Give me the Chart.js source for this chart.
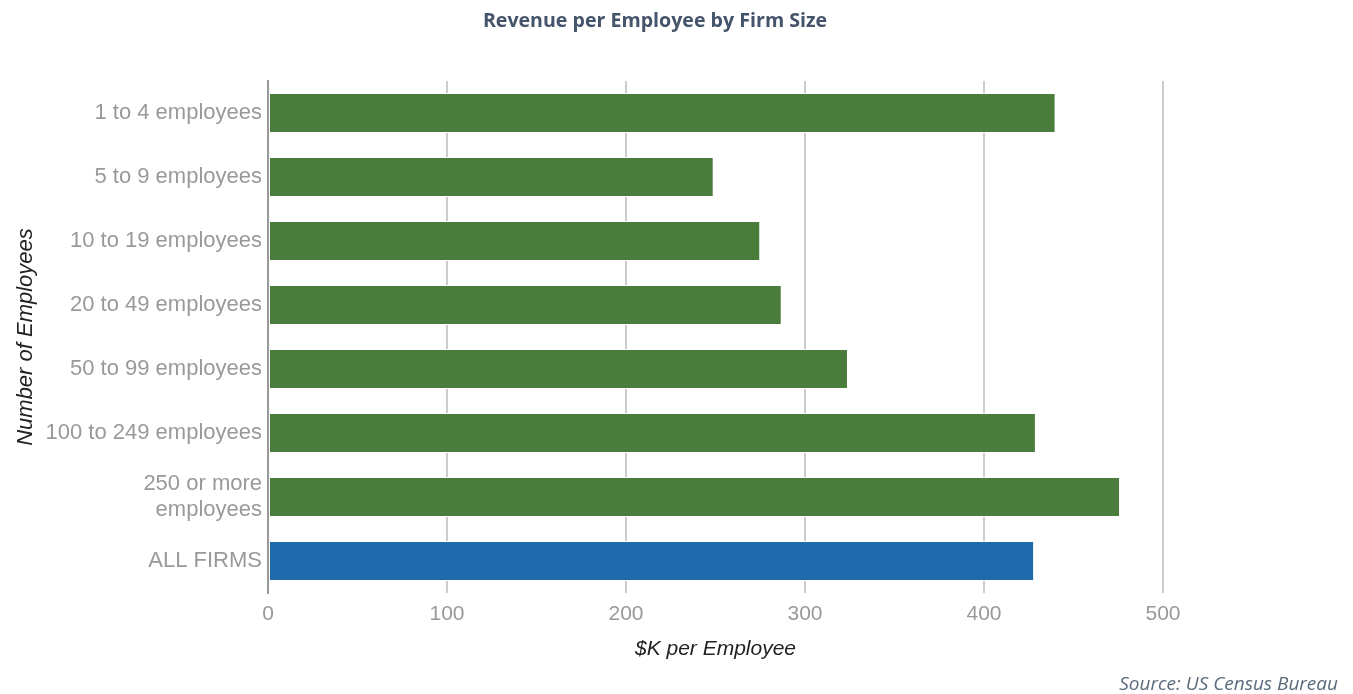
<!DOCTYPE html>
<html>
<head>
<meta charset="utf-8">
<title>Revenue per Employee by Firm Size</title>
<script src="https://cdn.jsdelivr.net/npm/chart.js@4.4.1/dist/chart.umd.min.js"></script>
<style>
    html, body { margin: 0; padding: 0; background: #ffffff; }
    #wrap { position: relative; width: 1353px; height: 694px; }
</style>
</head>
<body>
<div id="wrap">
    <canvas id="revenueChart" width="1353" height="694"></canvas>
</div>
<script>
// Receita por funcionário ($K) por porte da empresa
const categories = [
    '1 to 4 employees',
    '5 to 9 employees',
    '10 to 19 employees',
    '20 to 49 employees',
    '50 to 99 employees',
    '100 to 249 employees',
    ['250 or more', 'employees'],
    'ALL FIRMS'
];
const revenueK = [440, 249, 275, 287, 324, 429, 476, 428];
const xTicks = [0, 100, 200, 300, 400, 500];

const GREEN = '#4a7c3b';
const BLUE = '#1e6aad';
const barColors = categories.map(c => c === 'ALL FIRMS' ? BLUE : GREEN);

// Título e fonte desenhados direto no canvas
const headerFooter = {
    id: 'headerFooter',
    afterDraw(chart) {
        const ctx = chart.ctx;
        ctx.save();
        ctx.fillStyle = '#44546a';
        ctx.font = 'bold 19.6px "Open Sans", "Noto Sans", sans-serif';
        ctx.textAlign = 'center';
        ctx.textBaseline = 'alphabetic';
        ctx.fillText('Revenue per Employee by Firm Size', 655, 27);

        ctx.fillStyle = '#5b6b7d';
        ctx.font = 'italic 19px "Open Sans", "Noto Sans", sans-serif';
        ctx.textAlign = 'right';
        ctx.fillText('Source: US Census Bureau', 1338, 690);
        ctx.restore();
    }
};

Chart.defaults.font.family = '"Liberation Sans", Arial, sans-serif';

const ctx = document.getElementById('revenueChart').getContext('2d');
const revenueChart = new Chart(ctx, {
    type: 'bar',
    data: {
        labels: categories,
        datasets: [{
            data: revenueK,
            backgroundColor: barColors,
            borderColor: '#ffffff',
            borderWidth: 1,
            borderSkipped: false,
            categoryPercentage: 0.625,
            barPercentage: 1
        }]
    },
    options: {
        indexAxis: 'y',
        responsive: false,
        animation: false,
        layout: {
            padding: { top: 81, right: 190, bottom: 29, left: 0 }
        },
        plugins: {
            legend: { display: false },
            tooltip: { enabled: false }
        },
        scales: {
            x: {
                min: 0,
                max: 500,
                afterBuildTicks: scale => { scale.ticks = xTicks.map(v => ({ value: v })); },
                afterFit: scale => { scale.height = 72; },
                grid: {
                    color: '#cccccc',
                    lineWidth: 2,
                    drawTicks: false
                },
                border: { display: false },
                ticks: {
                    color: '#999999',
                    font: { size: 21 },
                    padding: 9
                },
                title: {
                    display: true,
                    text: '$K per Employee',
                    color: '#222222',
                    font: { size: 21, style: 'italic' },
                    padding: { top: 0, bottom: 3 }
                }
            },
            y: {
                afterFit: scale => { scale.width = 268; },
                grid: { display: false, drawTicks: false, tickLength: 0 },
                border: { display: true, color: '#999999', width: 2 },
                ticks: {
                    color: '#999999',
                    font: { size: 22 },
                    padding: 6
                },
                title: {
                    display: true,
                    text: 'Number of Employees',
                    color: '#222222',
                    font: { size: 22, style: 'italic' },
                    padding: { top: 13, bottom: 0 }
                }
            }
        }
    },
    plugins: [headerFooter]
});
</script>
</body>
</html>
